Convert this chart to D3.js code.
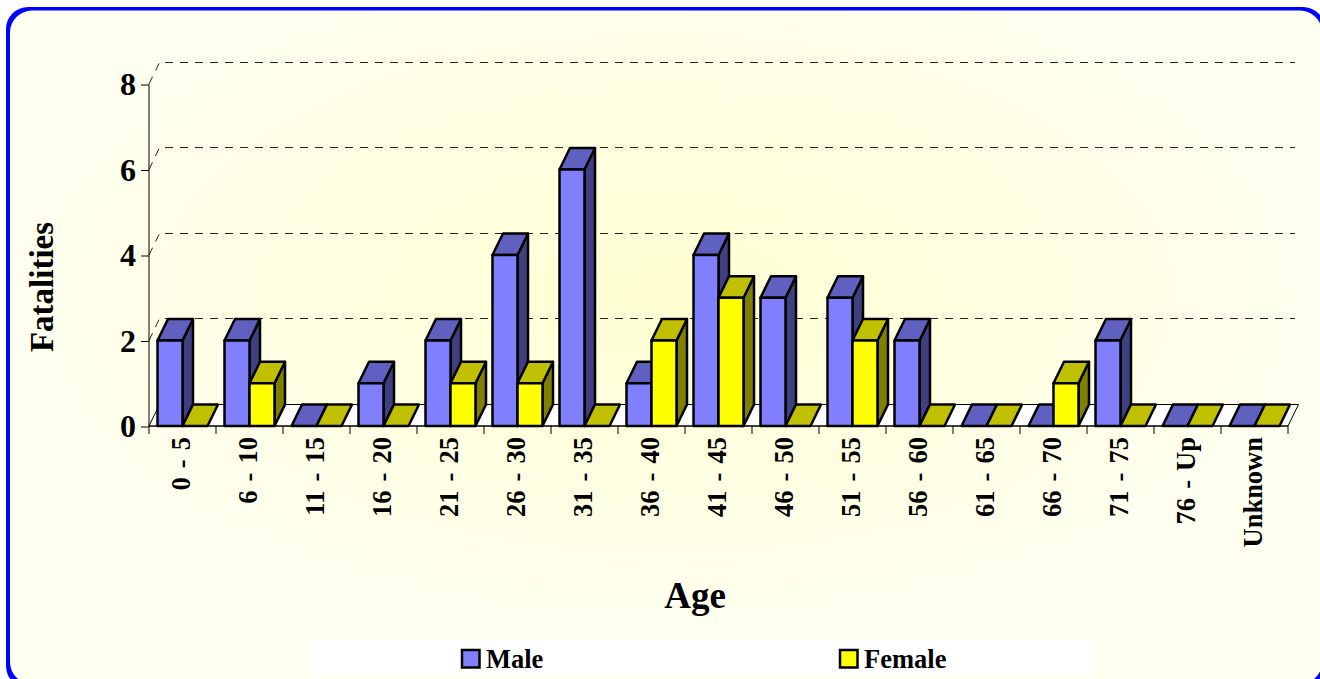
<!DOCTYPE html>
<html lang="en">
<head>
<meta charset="UTF-8">
<title>Fatalities by Age</title>
<script src="https://d3js.org/d3.v7.min.js"></script>
<style>
    html, body { margin: 0; padding: 0; background: #fff; overflow: hidden; }
    svg { display: block; }
    text { font-family: "Liberation Serif", serif; font-weight: bold; fill: #000; }
</style>
</head>
<body>
<svg width="1320" height="679"></svg>
<script>
const ages = ["0 - 5", "6 - 10", "11 - 15", "16 - 20", "21 - 25", "26 - 30", "31 - 35", "36 - 40", "41 - 45", "46 - 50", "51 - 55", "56 - 60", "61 - 65", "66 - 70", "71 - 75", "76 - Up", "Unknown"];
const male = [2, 2, 0, 1, 2, 4, 6, 1, 4, 3, 3, 2, 0, 0, 2, 0, 0];
const female = [0, 1, 0, 0, 1, 1, 0, 2, 3, 0, 2, 0, 0, 1, 0, 0, 0];
const yTicks = [0, 2, 4, 6, 8];
const seriesNames = ["Male", "Female"];
const frontColors = ["#8080ff", "#ffff00"];
const topColors = ["#6060c0", "#c0c000"];
const sideColors = ["#404080", "#808000"];

const depthX = 10.5, depthY = 21.5;

const svg = d3.select("svg");

// panel with soft yellow centre
const grad = svg.append("defs").append("radialGradient")
    .attr("id", "panel").attr("cx", "50%").attr("cy", "42%").attr("r", "50%");
grad.append("stop").attr("offset", "0%").attr("stop-color", "#ffffd2");
grad.append("stop").attr("offset", "55%").attr("stop-color", "#ffffe2");
grad.append("stop").attr("offset", "100%").attr("stop-color", "#fffff0");

// border: blue shape with the panel on top, so the corners come out heavier.
// Right and bottom edges run off the page
svg.append("rect")
    .attr("x", 6).attr("y", 7).attr("width", 1319).attr("height", 681)
    .attr("rx", 22).attr("ry", 22).attr("fill", "#0000ff");
svg.append("rect")
    .attr("x", 10).attr("y", 10.5).attr("width", 1312).attr("height", 673.5)
    .attr("rx", 22).attr("ry", 22).attr("fill", "url(#panel)");

const x = d3.scaleBand().domain(ages).range([149, 1288]);
const xInner = d3.scaleBand().domain(seriesNames).range([8.5, 58.5]);
const y = d3.scaleLinear().domain([0, 8]).range([426, 84]);

// floor
const [x0, x1] = x.range();
svg.append("path")
    .attr("d", d3.line()([[x0, y(0)], [x1, y(0)], [x1 + depthX, y(0) - depthY], [x0 + depthX, y(0) - depthY]]) + "Z")
    .attr("fill", "#fff").attr("stroke", "#000").attr("stroke-width", 1);

// gridlines on the back wall, with the short slanted bit on the left
const gridY = d => Math.floor(y(d) - 22) + 0.5;
const grid = svg.append("g");
grid.selectAll("line.back").data(yTicks.slice(1)).join("line")
    .attr("class", "back")
    .attr("x1", x0 + 16).attr("x2", x1 + 7)
    .attr("y1", gridY).attr("y2", gridY)
    .attr("stroke", "#222").attr("stroke-width", 1.2).attr("stroke-dasharray", "8 7");
grid.selectAll("line.side").data(yTicks.slice(1)).join("line")
    .attr("class", "side")
    .attr("x1", x0).attr("x2", x0 + depthX)
    .attr("y1", d => y(d)).attr("y2", gridY)
    .attr("stroke", "#222").attr("stroke-width", 1).attr("stroke-dasharray", "8 7");

// axes
const yAxis = d3.axisLeft(y).tickValues(yTicks).tickSize(8).tickPadding(5).tickFormat(d3.format("d"));
const gy = svg.append("g").attr("transform", `translate(${x0},0.5)`).call(yAxis);
gy.selectAll("text").style("font-size", "32px");
gy.select(".domain").attr("d", `M0,${y(8)}V${y(0)}`);

const xAxisLine = svg.append("g");
xAxisLine.append("line")
    .attr("x1", x0).attr("x2", x1).attr("y1", y(0)).attr("y2", y(0))
    .attr("stroke", "#000");
xAxisLine.selectAll("line.tick").data(ages.map(d => x(d)).concat([x1])).join("line")
    .attr("class", "tick")
    .attr("x1", d => d).attr("x2", d => d)
    .attr("y1", y(0)).attr("y2", y(0) + 8)
    .attr("stroke", "#000");

xAxisLine.selectAll("text").data(ages).join("text")
    .attr("transform", d => `translate(${x(d) + x.bandwidth() / 2 + 7},437) rotate(-90)`)
    .attr("text-anchor", "end")
    .style("font-size", "26.5px")
    .style("word-spacing", "2.5px")
    .text(d => d);

// bars, back to front
const rows = ages.flatMap((age, i) => [
    { age, s: 0, name: seriesNames[0], value: male[i] },
    { age, s: 1, name: seriesNames[1], value: female[i] }
]);

const bars = svg.append("g").selectAll("g").data(rows).join("g")
    .attr("stroke", "#000").attr("stroke-width", 2.5).attr("stroke-linejoin", "round");

const left = d => x(d.age) + xInner(d.name);
const right = d => left(d) + xInner.bandwidth();

bars.filter(d => d.value > 0).append("path") // side
    .attr("fill", d => sideColors[d.s])
    .attr("d", d => d3.line()([[right(d), y(d.value)], [right(d) + depthX, y(d.value) - depthY], [right(d) + depthX, y(0) - depthY], [right(d), y(0)]]) + "Z");
bars.append("path") // top
    .attr("fill", d => topColors[d.s])
    .attr("d", d => d3.line()([[left(d), y(d.value)], [right(d), y(d.value)], [right(d) + depthX, y(d.value) - depthY], [left(d) + depthX, y(d.value) - depthY]]) + "Z");
bars.filter(d => d.value > 0).append("rect") // front
    .attr("fill", d => frontColors[d.s])
    .attr("x", left).attr("y", d => y(d.value))
    .attr("width", xInner.bandwidth()).attr("height", d => y(0) - y(d.value));

// axis titles
svg.append("text")
    .attr("transform", "translate(53,287) rotate(-90)")
    .attr("text-anchor", "middle")
    .style("font-size", "33px")
    .text("Fatalities");
svg.append("text")
    .attr("x", 695).attr("y", 608)
    .attr("text-anchor", "middle")
    .style("font-size", "37px")
    .text("Age");

// legend
svg.append("rect").attr("x", 311).attr("y", 640).attr("width", 782).attr("height", 35).attr("fill", "#fff");
const legendX = d3.scalePoint().domain(seriesNames).range([461, 839]);
const legend = svg.append("g").selectAll("g").data(seriesNames).join("g")
    .attr("transform", d => `translate(${legendX(d)},649)`);
legend.append("rect")
    .attr("x", 1).attr("y", 1).attr("width", 17.5).attr("height", 17.5)
    .attr("fill", (d, i) => frontColors[i]).attr("stroke", "#000").attr("stroke-width", 2.5);
legend.append("text")
    .attr("x", 25).attr("y", 19)
    .style("font-size", "26.5px")
    .text(d => d);
</script>
</body>
</html>
